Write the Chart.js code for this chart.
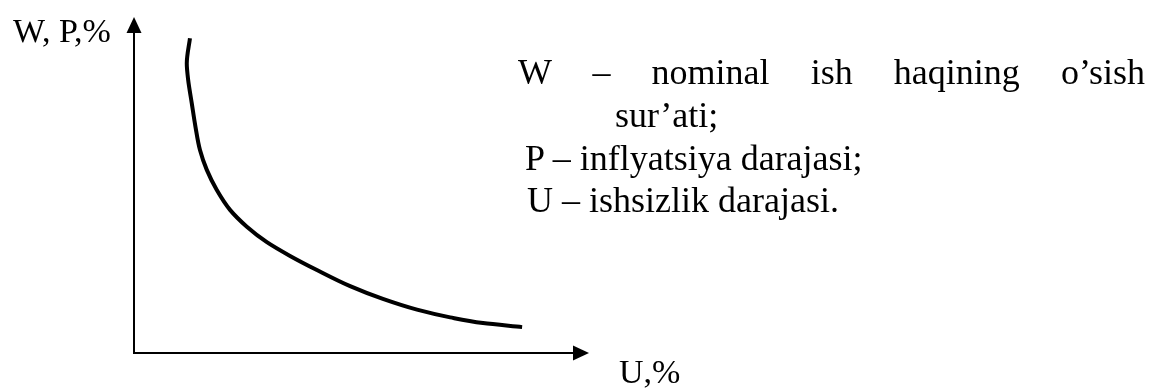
<!DOCTYPE html>
<html>
<head>
<meta charset="utf-8">
<script src="https://cdn.jsdelivr.net/npm/chart.js@4/dist/chart.umd.min.js"></script>
<style>
    body { margin: 0; background: #fff; }
    #wrap { position: relative; width: 1150px; height: 389px; }
    canvas { position: absolute; left: 0; top: 0; }
    .txt {
        position: absolute;
        font-family: 'Liberation Serif', 'Times New Roman', serif;
        color: #000;
        line-height: 1;
        white-space: nowrap;
    }
    .lbl { font-size: 34px; }
    .leg { font-size: 36px; }
    .just { text-align: justify; text-align-last: justify; white-space: normal; }
</style>
</head>
<body>
<div id="wrap">
    <canvas id="phillipsChart" width="1150" height="389"></canvas>
    <div class="txt lbl" style="left:13px; top:14px;">W, P,%</div>
    <div class="txt lbl" style="left:619px; top:355px;">U,%</div>
    <div class="txt leg just" style="left:518px; top:54px; width:627px;">W – nominal ish haqining o’sish</div>
    <div class="txt leg" style="left:615px; top:97px;">sur’ati;</div>
    <div class="txt leg" style="left:525px; top:140px;">P – inflyatsiya darajasi;</div>
    <div class="txt leg" style="left:527px; top:182px;">U – ishsizlik darajasi.</div>
</div>
<script>
// ishsizlik darajasi (U, %) va inflyatsiya / ish haqi o'sishi (W, P, %)
const uValues  = [12.3, 11.6, 11.9, 12.7, 13.5, 14.5, 16.0, 18.2, 21.1, 24.8, 29.2, 34.3, 40.2, 47.5, 54.7, 62.2, 69.5, 76.7, 85.3];
const wpValues = [93.7, 86.2, 81.3, 74.3, 67.4, 60.4, 54.5, 48.5, 42.6, 37.6, 33.0, 28.9, 24.7, 19.9, 16.1, 12.9, 10.6, 8.9, 7.7];

const axisRange = { min: 0, max: 100 };

// draws the two axes with arrow heads along the chart area edges
const axesPlugin = {
    id: 'axesArrows',
    afterDatasetsDraw(chart) {
        const { ctx } = chart;
        const { left, top, right, bottom } = chart.chartArea;
        const len = 16, half = 7.5;

        ctx.save();
        ctx.strokeStyle = '#000';
        ctx.fillStyle = '#000';
        ctx.lineWidth = 2;

        ctx.beginPath();
        ctx.moveTo(left, bottom);
        ctx.lineTo(left, top + len);
        ctx.moveTo(left - 1, bottom);
        ctx.lineTo(right - len, bottom);
        ctx.stroke();

        ctx.beginPath();
        ctx.moveTo(left, top);
        ctx.lineTo(left - half, top + len);
        ctx.lineTo(left + half, top + len);
        ctx.closePath();
        ctx.fill();

        ctx.beginPath();
        ctx.moveTo(right, bottom);
        ctx.lineTo(right - len, bottom - half);
        ctx.lineTo(right - len, bottom + half);
        ctx.closePath();
        ctx.fill();
        ctx.restore();
    }
};

const ctx = document.getElementById('phillipsChart').getContext('2d');
new Chart(ctx, {
    type: 'scatter',
    data: {
        datasets: [{
            data: uValues.map((u, i) => ({ x: u, y: wpValues[i] })),
            showLine: true,
            indexAxis: 'y',
            cubicInterpolationMode: 'monotone',
            borderColor: '#000',
            borderWidth: 4,
            pointRadius: 0,
            fill: false
        }]
    },
    options: {
        indexAxis: 'y',
        responsive: false,
        animation: false,
        layout: {
            padding: { left: 134, top: 17, right: 561, bottom: 36 }
        },
        scales: {
            x: { type: 'linear', display: false, ...axisRange },
            y: { type: 'linear', display: false, ...axisRange }
        },
        plugins: {
            legend: { display: false },
            tooltip: { enabled: false }
        }
    },
    plugins: [axesPlugin]
});
</script>
</body>
</html>
